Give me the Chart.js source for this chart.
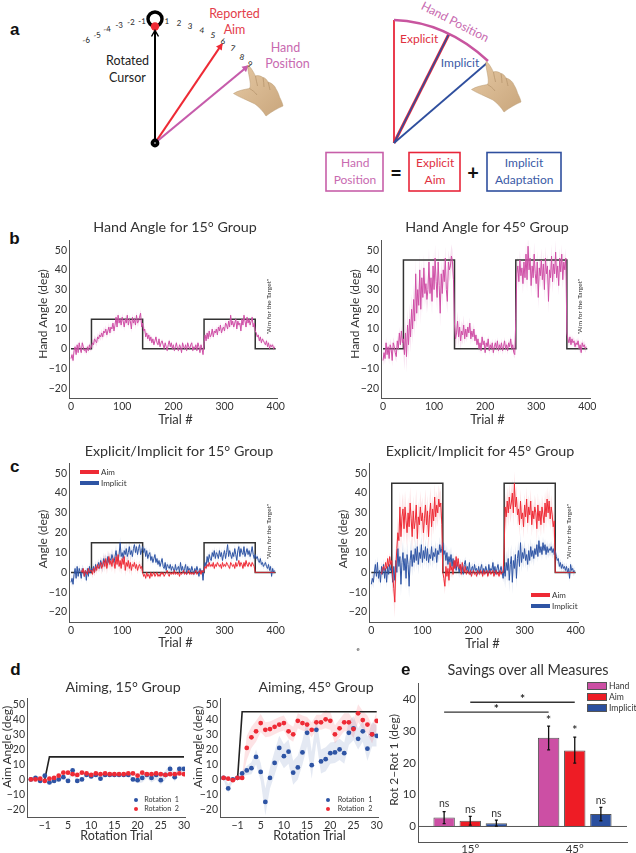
<!DOCTYPE html>
<html>
<head>
<meta charset="utf-8">
<script src="https://cdn.jsdelivr.net/npm/chart.js@4"></script>
<style>
html, body { margin: 0; padding: 0; background: #fff; }
#page { position: relative; width: 636px; height: 853px; overflow: hidden; font-family: Lato, sans-serif; }
#page canvas { position: absolute; }
#page svg { position: absolute; left: 0; top: 0; }
.txt { position: absolute; white-space: nowrap; line-height: 1; text-align: center; }
.box { position: absolute; }
</style>
</head>
<body>
<div id="page">
<svg width="636" height="200" viewBox="0 0 636 200">
  <defs>
    <marker id="headK" markerWidth="8" markerHeight="8" refX="6" refY="4" orient="auto" markerUnits="userSpaceOnUse"><path d="M0.5 0.5L6.5 4L0.5 7.5" fill="none" stroke="#000" stroke-width="1.4"/></marker>
    <marker id="headR" markerWidth="8" markerHeight="8" refX="6" refY="4" orient="auto" markerUnits="userSpaceOnUse"><path d="M0.5 0.5L7 4L0.5 7.5z" fill="#ee2a35"/></marker>
    <marker id="headP" markerWidth="8" markerHeight="8" refX="6" refY="4" orient="auto" markerUnits="userSpaceOnUse"><path d="M0.5 0.5L7 4L0.5 7.5z" fill="#c65cab"/></marker>
    <linearGradient id="skin" x1="0" y1="0" x2="1" y2="1">
      <stop offset="0" stop-color="#e6c9a4"/>
      <stop offset="1" stop-color="#c9a67c"/>
    </linearGradient>
    <g id="hand">
      <path d="M248 65.5 C250 66 253 71 255.5 76 C258 75 261 76 263 77.5 C265 77.5 267 80 268 82 C272 83 275 86 276 89 C278 92 279 95 279.5 97 C281 100 282.5 103 283 106 C278 108 271 112 266 116 C263 111 259 107 255 104 C247 100 239 97 233.5 93.5 C238 90.5 244 89.5 249.5 88.5 C251 86 250 82 249.5 78 C248.5 73 247.5 69 248 65.5z" fill="url(#skin)" stroke="#b99a72" stroke-width="0.5"/>
      <path d="M255.5 76 C256 80 257 83 257.5 86 M263 77.5 C263.5 81 264 84 264 87 M268 82 C269 85 269.5 88 270 90 M249.5 88.5 C252 90 255 92 257 95" fill="none" stroke="#ad8c63" stroke-width="0.6"/>
    </g>
  </defs>
  <circle cx="155" cy="19" r="7" fill="none" stroke="#000" stroke-width="3.4"/>
  <circle cx="155" cy="26.5" r="4.2" fill="#ee2a35"/>
  <line x1="155" y1="143" x2="155" y2="31" stroke="#000" stroke-width="2" marker-end="url(#headK)"/>
  <line x1="155" y1="143" x2="222" y2="44" stroke="#ee2a35" stroke-width="2.2" marker-end="url(#headR)"/>
  <line x1="155" y1="143" x2="248" y2="66" stroke="#c65cab" stroke-width="2.2" marker-end="url(#headP)"/>
  <circle cx="155" cy="143" r="2.6" fill="#fff" stroke="#000" stroke-width="3.6"/>
  <use href="#hand"/>

  <line x1="394" y1="143" x2="394" y2="20" stroke="#e8263a" stroke-width="1.8"/>
  <line x1="394" y1="143" x2="449" y2="34" stroke="#e8263a" stroke-width="3"/>
  <line x1="394" y1="143" x2="449" y2="34" stroke="#2f4f9e" stroke-width="1.6"/>
  <line x1="394" y1="143" x2="487" y2="63" stroke="#2f4f9e" stroke-width="1.8"/>
  <path d="M394 20 Q446 22 488 61" fill="none" stroke="#c8559f" stroke-width="2.4"/>
  <use href="#hand" transform="translate(238,-4)"/>

  <rect x="326" y="152.5" width="57" height="38.5" fill="none" stroke="#c75fa9" stroke-width="1.6"/>
  <rect x="409" y="152.5" width="51" height="38.5" fill="none" stroke="#e8263a" stroke-width="1.6"/>
  <rect x="487" y="152.5" width="74" height="38.5" fill="none" stroke="#2f4f9e" stroke-width="1.6"/>
</svg>
</div>
<script>
// ---------- data ----------
const rotTrials = [0, 40, 40, 140, 140, 260, 260, 360, 360, 400];
const rot15 = [0, 0, 15, 15, 0, 0, 15, 15, 0, 0];
const rot45 = [0, 0, 45, 45, 0, 0, 45, 45, 0, 0];
const trialTicks = [0, 100, 200, 300, 400];
const angleTicks = [-20, -10, 0, 10, 20, 30, 40, 50];

// one value every 2 trials, lines are baseline / rotation / washout / rotation / aim for target
const hand15 = [
  -5,-3,-6,-1,1,-3,2,-2,3,0,-2,3,1,-1,0,-2,1,-1,2,0,
  1,3,2,5,4,3,6,5,7,6,8,6,9,8,10,7,9,11,8,11,10,13,9,12,16,11,17,13,15,12,16,14,11,15,13,17,12,15,14,10,16,13,15,12,17,13,14,16,18,11,
  13,9,10,6,8,5,7,4,6,3,5,2,4,6,3,2,5,1,3,4,2,0,3,1,-1,2,4,1,3,0,2,-1,1,3,0,-1,2,1,-2,3,1,0,2,-1,3,1,0,2,3,-1,1,0,2,-1,3,1,-2,2,0,-3,
  3,7,4,8,5,9,6,7,10,6,9,8,10,7,11,9,12,8,10,11,9,13,12,10,14,11,17,12,14,11,13,15,10,14,12,13,9,15,12,17,14,11,16,13,15,12,14,16,11,13,
  9,8,6,7,4,6,3,5,4,3,2,4,1,3,0,2,1,2,0,1
];
const hand45 = [
  -6,-2,-5,3,-3,1,-5,2,0,-6,3,1,-2,-4,4,0,8,2,9,3,
  5,-3,8,-4,12,2,15,6,20,10,25,14,38,18,30,22,40,20,36,26,41,28,33,25,30,44,28,36,24,42,30,46,34,26,44,32,18,38,28,40,34,46,30,24,44,40,42,47,44,35,
  12,5,8,14,6,11,4,9,7,12,5,10,6,11,8,13,5,9,6,10,4,7,2,5,0,3,-1,6,2,4,-2,3,1,5,-1,2,0,3,-2,1,3,0,4,-1,2,0,3,-1,1,4,0,2,-1,3,1,5,0,2,-2,-3,
  15,38,42,34,45,37,41,33,44,36,48,35,52,40,46,32,42,36,48,38,33,44,26,41,37,45,35,43,30,46,38,42,24,40,36,47,34,43,38,49,36,42,32,46,39,48,35,44,40,46,
  8,5,3,6,2,5,3,4,1,3,2,4,0,2,-2,3,1,2,0,1
];
const aim15 = [
  null,null,null,null,null,null,null,null,null,null,1,0,2,-2,1,0,-1,2,0,1,
  1,-1,2,0,3,1,4,2,3,5,2,4,6,3,7,2,5,8,4,6,3,7,5,2,8,4,9,3,6,2,7,4,8,1,5,3,6,2,5,1,4,3,5,2,4,1,3,4,2,3,
  0,-2,-1,-3,0,-2,-1,-3,0,-2,-1,0,-2,-1,0,-2,-1,-2,0,-1,0,-2,-1,0,1,-1,-2,0,-1,0,-1,1,-1,0,-1,0,-2,0,-1,0,1,-1,0,-1,0,1,-1,0,-1,0,-1,0,1,-1,0,0,1,-1,1,0,
  1,3,2,4,3,5,3,4,3,5,2,4,3,5,4,3,4,2,5,3,4,3,5,4,3,2,5,4,3,4,2,5,3,4,6,3,5,4,2,5,3,6,4,3,5,4,3,5,4,3,
  0,0,0,0,0,0,0,0,0,0,0,0,0,0,0,0,0,0,0,0
];
const implicit15 = [
  -5,-3,-6,-1,2,-3,3,-2,2,0,-3,2,1,-2,1,-4,2,-2,3,0,
  2,1,3,0,4,2,3,5,2,6,4,3,7,5,6,4,8,5,7,6,9,7,5,8,11,7,6,9,15,8,10,7,11,9,12,8,10,13,9,11,8,12,14,10,13,9,12,14,9,11,
  13,10,12,8,11,7,9,10,6,8,5,7,9,5,7,4,6,3,5,7,3,2,5,1,4,3,2,4,1,3,2,0,4,1,2,3,0,5,1,3,0,2,4,-1,3,1,2,0,3,1,-1,2,0,3,1,-2,2,0,1,-4,
  2,5,3,8,5,9,7,6,10,8,11,7,10,9,7,11,8,10,6,9,11,7,10,14,8,11,9,7,10,8,12,9,6,11,13,8,12,10,9,13,8,10,12,9,11,8,10,13,9,7,
  9,7,8,6,5,7,4,5,3,4,5,3,2,4,1,3,-2,2,0,1
];
const aim45 = [
  null,null,null,null,null,null,null,null,null,null,-1,2,3,1,5,2,7,3,8,4,
  6,-2,-8,-15,3,12,20,16,33,18,28,32,22,33,26,20,30,23,35,27,18,31,22,26,34,17,28,24,33,26,30,20,27,34,24,31,18,29,35,23,32,26,38,28,34,30,37,33,35,24,
  0,-3,-7,3,-2,2,-4,5,1,3,-1,6,2,8,3,7,2,4,-1,5,2,0,3,-1,1,0,-1,1,-2,0,1,-1,0,-2,1,0,-1,1,0,-2,1,-1,0,1,-2,0,1,-1,0,1,-2,0,1,-1,0,-2,1,-1,0,0,
  12,33,28,36,30,38,32,35,40,30,45,33,38,29,32,24,36,27,30,23,34,28,37,25,33,29,36,24,31,27,33,30,22,34,26,31,24,33,29,25,35,28,37,30,36,27,33,29,23,26,
  0,0,0,0,0,0,0,0,0,0,0,0,0,0,0,0,0,0,0,0
];
const implicit45 = [
  -6,-3,-5,0,4,-2,5,-3,1,-5,3,-1,4,-3,2,-5,3,-1,4,1,
  2,-5,3,-4,6,0,12,3,8,-6,5,10,1,7,-3,9,4,-7,6,11,3,9,5,12,6,13,4,10,7,14,5,11,7,13,6,12,5,9,7,13,6,10,8,12,5,11,9,14,10,12,
  15,9,11,6,10,4,8,5,9,3,7,2,6,1,5,3,0,4,1,3,-1,4,6,1,3,0,5,-1,2,3,0,4,1,2,-1,3,0,2,4,-1,2,0,3,1,-1,4,0,2,1,5,0,3,-1,2,4,0,1,3,0,-3,
  3,-2,5,1,7,-4,4,8,-5,6,2,9,-3,7,11,3,15,5,10,7,12,6,9,4,11,6,13,8,11,7,12,9,14,8,16,10,13,9,15,11,14,9,13,10,12,11,13,10,12,9,
  11,8,6,7,3,5,2,4,2,3,1,3,0,2,-3,4,1,2,0,1
];
// shaded error, one half width per 20 trials
const semHand15 = [1.5,1.5,2,2,2,2,2,1.5,1,1,1,1,1,1.5,1.5,1.5,1.5,1.5,1,1];
const semHand45 = [3,3,8,8,7,7,6,5,3,2,2,2,2,5,6,6,6,5,2,2];
const semAim15 = [.5,.5,2,3,3,3,2,1,1,.5,.5,.5,.5,1,1,1,1,1,0,0];
const semImplicit15 = [2,2,2,3,3,3,2,2,1.5,1.5,1.5,1.5,1.5,2,2,2,2,2,1.5,1.5];
const semAim45 = [1,2,8,8,8,8,7,4,2,1,1,1,1,7,6,6,6,6,0,0];
const semImplicit45 = [3,3,6,6,5,4,4,4,3,2,2,2,2,6,5,4,3,3,2,2];

// aiming per rotation trial, the tick at 0 is labelled -1 in the figure
const rotationTrials = [-3,-2,-1,0,1,2,3,4,5,6,7,8,9,10,11,12,13,14,15,16,17,18,19,20,21,22,23,24,25,26,27,28,29,30];
const aimingTicks = [0, 5, 10, 15, 20, 25, 30];
const aimingAngleTicks = [-20, -10, 0, 10, 20, 30, 40, 50];
const first15 = [0,1,-1,2.5,-2,-1,0,1.5,-1,6,-1,0,3,2,3,0.5,3,3,3,3,3,3,0,-0.5,1,3,1,3,-0.5,3,7,1.5,7,7];
const second15 = [0,0,0.5,-1,0.5,1,2.5,4.5,4.5,3.5,3,4.5,4,3,4,3.5,4,3.5,3.5,3.5,3.5,4,4,2.5,4.5,3.5,3.5,4,3.5,3,3.5,3.5,4,3.5];
const first45 = [1,-6,0,1,4,6,7.5,15,5,-15,1,11,21,15.5,18.5,4.5,8,18,31,9.5,33,12,13.5,17.5,18,20,17.5,31,34,27,32,20.5,30,29];
const second45 = [1,0.5,-0.5,1,1,21,28,32,37.5,33,33.5,35,36.5,37.5,32,30,39,37.5,36.5,33,38,38,40,39,30,34,38,38,33.5,44,39.5,36.5,30,39];
const semFirst15 = [1,1,1,1,1,1,1,1,1,2,1,1,1,1,1,1,1,1,1,1,1,1,1,2,3,2,3,3,3,3,3,3,2,2];
const semSecond15 = [1,1,1,1,1,1,1,1,1,1,1,1,1,1,1,1,1,1,1,1,1,1,1,1,1,1,1,1,1,1,1,1,1,1];
const semFirst45 = [1,3,1,1,2,3,4,5,6,9,7,8,8,8,8,8,8,8,9,9,8,8,8,7,7,7,7,8,8,7,7,8,8,7];
const semSecond45 = [1,1,1,1,1.5,8,7,7,6,5,5,5,5,5,5,5,5,5,5,5,5,5,6,6,6,6,6,6,6,6,6,6,6,6];
const aimingRot15 = [null,null,null,0,15,15,15,15,15,15,15,15,15,15,15,15,15,15,15,15,15,15,15,15,15,15,15,15,15,15,15,15,15,15];
const aimingRot45 = [null,null,null,0,45,45,45,45,45,45,45,45,45,45,45,45,45,45,45,45,45,45,45,45,45,45,45,45,45,45,45,45,45,45];

// savings bars
const savingsGroups = ['15°', '45°'];
const savingsHand = [2.8, 28];
const savingsAim = [1.8, 24];
const savingsImplicit = [1, 3.9];
const savingsLow = [[0.9, 24.2], [0.4, 20], [0.1, 1.8]];
const savingsHigh = [[4.7, 31.7], [3.2, 28.2], [2, 6]];
const savingsTicks = [0, 10, 20, 30, 40];
const savingsNoteY = [[7.1, 33.5], [5.4, 30.5], [4.2, 8.2]];
const savingsNoteText = [['ns', '*'], ['ns', '*'], ['ns', 'ns']];

// colours
const PINK = '#cf4fa6', RED = '#ee2a35', BLUE = '#2e54a4', DARK = '#333';
const PINK_BAND = 'rgba(207,79,166,0.16)', RED_BAND = 'rgba(238,42,53,0.13)', BLUE_BAND = 'rgba(46,84,164,0.13)';
const FONT = 'Lato, sans-serif';

var page = document.getElementById('page');

// centred text, snapped to whole pixels so rotated labels stay sharp
function addText(str, x, y, size, color, rotate, weight, family) {
    var d = document.createElement('div');
    d.className = 'txt';
    d.textContent = str;
    d.style.fontSize = size + 'px';
    d.style.color = color || DARK;
    if (weight) d.style.fontWeight = weight;
    if (family) d.style.fontFamily = family;
    page.appendChild(d);
    var w = Math.ceil(d.offsetWidth), h = Math.ceil(d.offsetHeight);
    if ((w + h) % 2) w += 1;
    d.style.width = w + 'px';
    d.style.height = h + 'px';
    d.style.left = Math.round(x - w / 2) + 'px';
    d.style.top = Math.round(y - h / 2) + 'px';
    if (rotate) d.style.transform = 'rotate(' + rotate + 'deg)';
}

function addLeft(str, x, y, size, color, spacing) {
    var d = document.createElement('div');
    d.className = 'txt';
    d.textContent = str;
    d.style.left = x + 'px';
    d.style.top = Math.round(y - size / 2) + 'px';
    d.style.fontSize = size + 'px';
    d.style.color = color || DARK;
    if (spacing) d.style.whiteSpace = 'pre';
    page.appendChild(d);
}

function addBox(x, y, w, h, color, border) {
    var d = document.createElement('div');
    d.className = 'box';
    d.style.left = x + 'px';
    d.style.top = y + 'px';
    d.style.width = w + 'px';
    d.style.height = h + 'px';
    d.style.background = color;
    if (border) d.style.border = '1px solid ' + border, d.style.boxSizing = 'border-box';
    page.appendChild(d);
}

function minusSign(v) { return String(v).replace('-', '\u2212'); }

// places a chart so its plot area lands on the given rectangle
function addChart(rect, config, tickSize, xTickValues, yTickValues, xLabel, xPad) {
    var ml = 30, mr = 14, mt = 8, mb = 853 - rect.bottom < 24 ? 853 - rect.bottom : 24;
    var canvas = document.createElement('canvas');
    canvas.width = rect.right - rect.left + ml + mr;
    canvas.height = rect.bottom - rect.top + mt + mb;
    canvas.style.left = (rect.left - ml) + 'px';
    canvas.style.top = (rect.top - mt) + 'px';
    page.appendChild(canvas);
    var xScale = Object.assign({
        grid: { display: false, drawTicks: false },
        border: { display: true, color: '#555', width: 1 },
        ticks: { font: { family: FONT, size: tickSize }, color: DARK, padding: xPad === undefined ? 2 : xPad, maxRotation: 0, autoSkip: false,
                  callback: xLabel || function (v) { return minusSign(v); } },
        afterFit: function (s) { s.height = mb; }
    }, config.xScale);
    if (xTickValues) xScale.afterBuildTicks = function (s) { s.ticks = xTickValues.map(function (v) { return { value: v }; }); };
    var yScale = Object.assign({
        grid: { display: false, drawTicks: false },
        border: { display: true, color: '#555', width: 1 },
        ticks: { font: { family: FONT, size: tickSize }, color: DARK, padding: 2, autoSkip: false,
                  callback: function (v) { return minusSign(v); } },
        afterFit: function (s) { s.width = ml; },
        afterBuildTicks: function (s) { s.ticks = yTickValues.map(function (v) { return { value: v }; }); }
    }, config.yScale);
    return new Chart(canvas, {
        type: config.type,
        data: config.data,
        plugins: config.plugins || [],
        options: {
            responsive: false,
            animation: false,
            layout: { padding: { top: mt, right: mr, left: 0, bottom: 0 } },
            plugins: { legend: { display: false }, tooltip: { enabled: false }, title: { display: false } },
            scales: { x: xScale, y: yScale }
        }
    });
}

function trialPoints(values) {
    return values.map(function (v, i) { return { x: i * 2, y: v }; });
}
function bandPoints(values, sem, sign) {
    return values.map(function (v, i) {
        return { x: i * 2, y: v === null ? null : v + sign * sem[Math.floor(i / 10)] };
    });
}
function meanLine(values, color, width) {
    return { data: trialPoints(values), borderColor: color, borderWidth: width || 1, pointRadius: 0, tension: 0, fill: false };
}
function bandPair(values, sem, color) {
    return [
        { data: bandPoints(values, sem, 1), borderWidth: 0, pointRadius: 0, backgroundColor: color, fill: '+1' },
        { data: bandPoints(values, sem, -1), borderWidth: 0, pointRadius: 0, fill: false }
    ];
}
function rotationLine(values) {
    return {
        data: rotTrials.map(function (t, i) { return { x: t, y: values[i] }; }),
        borderColor: DARK, borderWidth: 1.5, pointRadius: 0, tension: 0, fill: false
    };
}
function trialChart(rect, datasets) {
    var pxPerTrial = (rect.zero400 - rect.zero) / 400;
    addChart(rect, {
        type: 'line',
        data: { datasets: datasets },
        xScale: { type: 'linear', min: (rect.left - rect.zero) / pxPerTrial, max: (rect.right - rect.zero) / pxPerTrial },
        yScale: { type: 'linear', min: -25, max: 55 }
    }, 10.5, trialTicks, angleTicks);
}

// ---------- panel b ----------
trialChart({ left: 69, right: 277, top: 240, bottom: 398, zero: 71, zero400: 275.7 },
    [meanLine(hand15, PINK)].concat([rotationLine(rot15)], bandPair(hand15, semHand15, PINK_BAND)));
trialChart({ left: 381, right: 590, top: 240, bottom: 398, zero: 383, zero400: 587.3 },
    [meanLine(hand45, PINK)].concat([rotationLine(rot45)], bandPair(hand45, semHand45, PINK_BAND)));

// ---------- panel c ----------
trialChart({ left: 69, right: 277, top: 463, bottom: 622, zero: 71, zero400: 275.7 },
    [meanLine(aim15, RED), meanLine(implicit15, BLUE), rotationLine(rot15)].concat(
        bandPair(aim15, semAim15, RED_BAND), bandPair(implicit15, semImplicit15, BLUE_BAND)));
trialChart({ left: 369, right: 578, top: 463, bottom: 622, zero: 371.3, zero400: 575.7 },
    [meanLine(aim45, RED), meanLine(implicit45, BLUE), rotationLine(rot45)].concat(
        bandPair(aim45, semAim45, RED_BAND), bandPair(implicit45, semImplicit45, BLUE_BAND)));

// ---------- panel d ----------
function aimingPoints(values, sem, sign) {
    return values.map(function (v, i) { return { x: rotationTrials[i], y: v === null ? null : v + (sem ? sign * sem[i] : 0) }; });
}
function aimingChart(rect, zero, first, second, semFirst, semSecond, rot) {
    var dots = function (values, color) {
        return { data: aimingPoints(values), showLine: false, pointRadius: 2.4, pointBackgroundColor: color, pointBorderWidth: 0 };
    };
    var band = function (values, sem, color) {
        return [
            { data: aimingPoints(values, sem, 1), borderWidth: 0, pointRadius: 0, backgroundColor: color, fill: '+1' },
            { data: aimingPoints(values, sem, -1), borderWidth: 0, pointRadius: 0, fill: false }
        ];
    };
    addChart(rect, {
        type: 'line',
        data: { datasets: [dots(second, RED), dots(first, BLUE),
            { data: aimingPoints(rot), borderColor: '#222', borderWidth: 1.6, pointRadius: 0, fill: false }
        ].concat(band(second, semSecond, RED_BAND), band(first, semFirst, BLUE_BAND)) },
        xScale: { type: 'linear', min: (rect.left - zero) / 4.64, max: (rect.right - zero) / 4.64 },
        yScale: { type: 'linear', min: -25, max: 54 }
    }, 10.5, aimingTicks, aimingAngleTicks, function (v) { return v === 0 ? '\u22121' : v; });
}
aimingChart({ left: 27, right: 185, top: 698, bottom: 817 }, 44.8, first15, second15, semFirst15, semSecond15, aimingRot15);
aimingChart({ left: 220, right: 378, top: 698, bottom: 817 }, 237.5, first45, second45, semFirst45, semSecond45, aimingRot45);

// ---------- panel e ----------
var savingsMarks = {
    id: 'savingsMarks',
    afterDatasetsDraw: function (chart) {
        var ctx = chart.ctx, y = chart.scales.y, x = chart.scales.x;
        ctx.save();
        ctx.strokeStyle = '#555';
        ctx.lineWidth = 1;
        ctx.beginPath();
        ctx.moveTo(chart.chartArea.left, y.getPixelForValue(0));
        ctx.lineTo(chart.chartArea.right, y.getPixelForValue(0));
        ctx.stroke();
        ctx.textAlign = 'center';
        ctx.textBaseline = 'middle';
        chart.data.datasets.forEach(function (ds, d) {
            chart.getDatasetMeta(d).data.forEach(function (bar, i) {
                var lo = y.getPixelForValue(savingsLow[d][i]), hi = y.getPixelForValue(savingsHigh[d][i]);
                ctx.strokeStyle = '#111';
                ctx.lineWidth = 1.3;
                ctx.beginPath();
                ctx.moveTo(bar.x, lo); ctx.lineTo(bar.x, hi);
                ctx.moveTo(bar.x - 1.5, lo); ctx.lineTo(bar.x + 1.5, lo);
                ctx.moveTo(bar.x - 1.5, hi); ctx.lineTo(bar.x + 1.5, hi);
                ctx.stroke();
                var note = savingsNoteText[d][i];
                ctx.fillStyle = DARK;
                ctx.font = (note === '*' ? 'bold 12px ' : '10.5px ') + FONT;
                ctx.fillText(note, bar.x, y.getPixelForValue(savingsNoteY[d][i]));
            });
        });
        // comparison brackets between the groups
        var hand = chart.getDatasetMeta(0).data;
        var spans = [[x.getPixelForValue(0), x.getPixelForValue(1), 39.2], [hand[0].x, hand[1].x, 36.1]];
        spans.forEach(function (s) {
            var py = y.getPixelForValue(s[2]);
            ctx.strokeStyle = '#333';
            ctx.lineWidth = 1.4;
            ctx.beginPath();
            ctx.moveTo(s[0], py); ctx.lineTo(s[1], py);
            ctx.stroke();
            ctx.fillStyle = '#222';
            ctx.font = 'bold 12px ' + FONT;
            ctx.fillText('*', (s[0] + s[1]) / 2, py - 3);
        });
        ctx.restore();
    }
};
addChart({ left: 418, right: 627, top: 683, bottom: 842 }, {
    type: 'bar',
    plugins: [savingsMarks],
    data: {
        labels: savingsGroups,
        datasets: [
            { data: savingsHand, backgroundColor: '#cc4fa4', borderColor: '#555', borderWidth: 1 },
            { data: savingsAim, backgroundColor: '#ee1c25', borderColor: '#555', borderWidth: 1 },
            { data: savingsImplicit, backgroundColor: '#2a4f9f', borderColor: '#555', borderWidth: 1 }
        ].map(function (d) { d.categoryPercentage = 0.75; d.barPercentage = 0.82; return d; })
    },
    xScale: {},
    yScale: { type: 'linear', min: -4.9, max: 45 }
}, 11.5, null, savingsTicks, function (v, i) { return savingsGroups[i]; }, 0);

// ---------- text and legends ----------
addText('a', 14, 29, 17, '#111', 0, 'bold', 'Liberation Sans');
addText('b', 14, 238, 17, '#111', 0, 'bold', 'Liberation Sans');
addText('c', 14, 466, 17, '#111', 0, 'bold', 'Liberation Sans');
addText('d', 15, 669, 17, '#111', 0, 'bold', 'Liberation Sans');
addText('e', 405, 669, 17, '#111', 0, 'bold', 'Liberation Sans');
addText('e', 358, 649, 6, '#555');

var arcLabels = ['-6','-5','-4','-3','-2','-1','1','2','3','4','5','6','7','8','9'];
var arcX = [86,97,107,119,131,142,167,179,190,202,213,223,233,242,250];
var arcY = [40,35,29,25,22,21,21,23,26,30,35,41,48,57,64];
var arcTilt = [-10,-8,-7,-5,-3,-1,1,3,5,7,8,10,12,14,16];
arcLabels.forEach(function (s, i) { addText(s, arcX[i], arcY[i], 8, '#222', arcTilt[i]); });

addText('Rotated', 127, 61, 12.5, '#222');
addText('Cursor', 127, 78, 12.5, '#222');
addText('Reported', 234, 14, 12.5, '#e33d4a');
addText('Aim', 234, 30, 12.5, '#e33d4a');
addText('Hand', 285, 48, 12.5, '#c86ab0');
addText('Position', 287, 64, 12.5, '#c86ab0');

addText('Explicit', 419, 39, 12, '#e0303f');
addText('Implicit', 460, 63, 12, '#3a5aa6');
addText('Hand Position', 455, 22, 12, '#c86ab0', 27);
addText('Hand', 354.5, 163, 12, '#c86ab0');
addText('Position', 354.5, 179.5, 12, '#c86ab0');
addText('=', 395.5, 172, 20, '#111', 0, 'bold');
addText('Explicit', 434.5, 163, 12, '#e0303f');
addText('Aim', 434.5, 179.5, 12, '#e0303f');
addText('+', 473, 172, 20, '#111', 0, 'bold');
addText('Implicit', 524, 163, 12, '#3a5aa6');
addText('Adaptation', 524, 179.5, 12, '#3a5aa6');

addText('Hand Angle for 15\u00b0 Group', 175, 227, 14.3);
addText('Hand Angle for 45\u00b0 Group', 486.7, 227, 14.3);
addText('Explicit/Implicit for 15\u00b0 Group', 179, 451, 14.3);
addText('Explicit/Implicit for 45\u00b0 Group', 479.7, 451, 14.3);
addText('Aiming, 15\u00b0 Group', 123.3, 687, 14.2);
addText('Aiming, 45\u00b0 Group', 316, 687, 14.2);
addText('Savings over all Measures', 527.8, 670, 14.4);

addText('Hand Angle (deg)', 43, 314, 12, DARK, -90);
addText('Hand Angle (deg)', 355, 314, 12, DARK, -90);
addText('Angle (deg)', 43, 539, 12, DARK, -90);
addText('Angle (deg)', 343, 539, 12, DARK, -90);
addText('Aim Angle (deg)', 7, 747, 12, DARK, -90);
addText('Aim Angle (deg)', 198, 747, 12, DARK, -90);
addText('Rot 2\u2212Rot 1 (deg)', 394, 760, 12, DARK, -90);

addText('Trial #', 175.8, 419, 13);
addText('Trial #', 487, 419, 13);
addText('Trial #', 175.8, 642, 13);
addText('Trial #', 482, 643, 13);
addText('Rotation Trial', 116.7, 836.7, 12.5);
addText('Rotation Trial', 309, 836.7, 12.5);

addText('"Aim for the Target"', 269, 306.7, 6.5, DARK, -90);
addText('"Aim for the Target"', 580, 306.7, 6.5, DARK, -90);
addText('"Aim for the Target"', 269, 531.7, 6.5, DARK, -90);
addText('"Aim for the Target"', 569.7, 531.7, 6.5, DARK, -90);

addBox(80, 470, 19, 4, RED);
addLeft('Aim', 101, 472, 8);
addBox(80, 481, 19, 4, BLUE);
addLeft('Implicit', 101, 483, 8);
addBox(531, 593, 19, 4, RED);
addLeft('Aim', 552, 595, 8);
addBox(531, 604, 19, 4, BLUE);
addLeft('Implicit', 552, 606, 8);

function aimLegend(dotX, textX) {
    [[799.7, BLUE, 'Rotation  1'], [809, RED, 'Rotation  2']].forEach(function (row) {
        var d = document.createElement('div');
        d.className = 'box';
        d.style.left = (dotX - 2.2) + 'px';
        d.style.top = (row[0] - 2.2) + 'px';
        d.style.width = '4.4px';
        d.style.height = '4.4px';
        d.style.borderRadius = '50%';
        d.style.background = row[1];
        page.appendChild(d);
        addLeft(row[2], textX, row[0], 7.2, DARK, true);
    });
}
aimLegend(136, 144.3);
aimLegend(328, 337.7);

addBox(587.3, 682, 19.5, 8, '#cc4fa4', '#555');
addLeft('Hand', 609, 686, 8.6);
addBox(587.3, 693, 19.5, 8, '#ee1c25', '#555');
addLeft('Aim', 609, 697, 8.6);
addBox(587.3, 704, 19.5, 8, '#2a4f9f', '#555');
addLeft('Implicit', 609, 708, 8.6);
</script>
</body>
</html>
